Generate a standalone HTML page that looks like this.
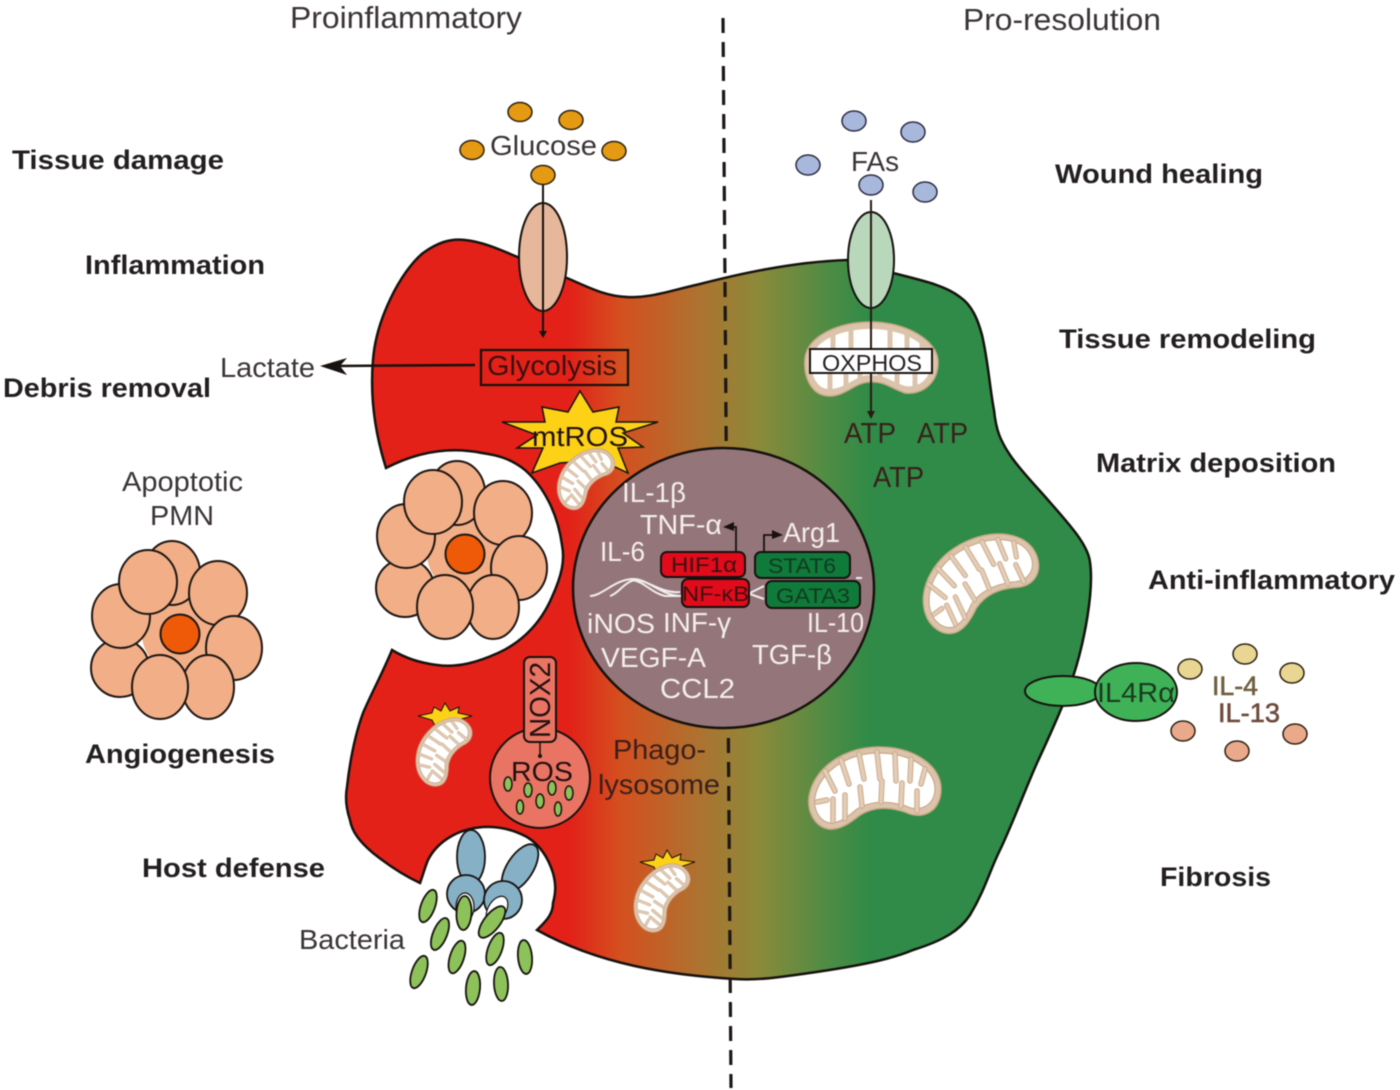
<!DOCTYPE html>
<html><head><meta charset="utf-8"><style>
html,body{margin:0;padding:0;background:#fff}
svg{display:block;filter:blur(.45px)}
text{font-family:"Liberation Sans",sans-serif}
.b{font-weight:bold;font-size:27px;fill:#231f20}
.l{font-size:28px;fill:#3a3436}
.w{font-size:28px;fill:#f4eeee}
.d{font-size:29px;fill:#3a1f1a}
.k{font-size:21px;fill:#3a1010}
</style></head><body>
<svg width="1400" height="1090" viewBox="0 0 1400 1090" xmlns="http://www.w3.org/2000/svg">
<defs>
<linearGradient id="g" gradientUnits="userSpaceOnUse" x1="570" y1="0" x2="870" y2="0">
<stop offset="0" stop-color="#e32119"/><stop offset=".17" stop-color="#d4501f"/><stop offset=".43" stop-color="#ae7230"/><stop offset=".63" stop-color="#8b8a3a"/><stop offset=".87" stop-color="#4c8c45"/><stop offset="1" stop-color="#2f8b47"/>
</linearGradient>
<g id="mito">
<path d="M-66,10 C-62,-18 -32,-40 4,-40 C38,-40 66,-22 66,2 C66,24 48,34 30,25 C15,20 0,19 -15,28 C-25,36 -35,43 -46,42 C-60,40 -68,25 -66,10Z" fill="#dcc4ac" stroke="#c9a887" stroke-width="1.5"/>
<path d="M-60,10 C-56,-14 -29,-34 4,-34 C34,-34 60,-19 60,2 C60,18 45,26 31,19 C14,14 -3,13 -18,22 C-27,30 -35,36 -45,36 C-56,34 -62,22 -60,10Z" fill="#fff" stroke="#c9a887" stroke-width="1.2"/>
<g fill="none" stroke-linecap="round">
<path stroke="#c9a887" stroke-width="5.5" d="M-50,-16 L-40,4M-34,-27 L-26,-3M-16,-33 L-11,-8M2,-35 L5,-8M20,-33 L21,-6M36,-28 L35,-6M50,-18 L46,-3"/>
<path stroke="#c9a887" stroke-width="5.5" d="M-42,34 L-42,12M-30,32 L-30,8M-13,19 L-15,0M6,15 L7,-6M26,19 L27,-4M42,24 L42,4M-58,15 L-48,13"/>
<path stroke="#e3cdb7" stroke-width="3.6" d="M-50,-16 L-40,4M-34,-27 L-26,-3M-16,-33 L-11,-8M2,-35 L5,-8M20,-33 L21,-6M36,-28 L35,-6M50,-18 L46,-3"/>
<path stroke="#e3cdb7" stroke-width="3.6" d="M-42,34 L-42,12M-30,32 L-30,8M-13,19 L-15,0M6,15 L7,-6M26,19 L27,-4M42,24 L42,4M-58,15 L-48,13"/>
</g>
</g>
<g id="pmn" stroke="#1c1714" stroke-width="2" fill="#f2ae86">
<circle cx="180" cy="634" r="38" stroke="none"/>
<ellipse cx="172" cy="573" rx="28" ry="32"/>
<ellipse cx="218" cy="593" rx="29" ry="32"/>
<ellipse cx="234" cy="648" rx="28" ry="32"/>
<ellipse cx="208" cy="687" rx="26" ry="32"/>
<ellipse cx="120" cy="668" rx="29" ry="29"/>
<ellipse cx="160" cy="687" rx="28" ry="32"/>
<ellipse cx="121" cy="616" rx="29" ry="32"/>
<ellipse cx="148" cy="582" rx="29" ry="32"/>
<circle cx="180" cy="634" r="19.5" fill="#ee5a07"/>
</g>
</defs>

<!-- cell -->
<path fill="url(#g)" stroke="#17120f" stroke-width="2.5" stroke-linejoin="miter" d="M386,468 C374,430 370,395 373,360 C376,320 400,272 423,253 C437,243 450,238 465,240 C485,242 505,252 520,258 C535,265 550,272 567,278 C590,288 605,296 627,297 C650,298 665,292 700,284 C735,275 790,262 847,260 C865,262 880,268 893,273 C920,280 945,285 960,297 C972,305 978,320 982,335 C988,360 990,390 994,410 C996,430 1000,440 1010,455 C1020,470 1035,485 1048,500 C1070,525 1088,545 1090,562 C1094,590 1085,640 1073,677 C1068,695 1050,735 1037,763 C1025,790 1012,825 1000,850 C990,870 985,890 970,915 C960,930 945,940 913,950 C890,960 850,968 780,977 C765,979 750,980 735,979 C670,975 600,965 537,930 C545,922 553,915 553,903 C556,892 556,884 553,873 C548,857 540,845 527,837 C512,829 498,826 483,827 C470,828 460,831 450,837 C440,843 433,850 428,860 C425,867 423,875 420,883 C405,876 388,865 373,853 C360,842 352,832 350,820 C346,808 345,798 347,787 C350,760 355,735 363,713 C372,692 383,672 392,650 C405,658 420,663 437,665 C458,668 478,662 498,653 C520,643 540,625 552,597 C562,575 565,560 562,545 C558,515 545,488 525,470 C510,458 496,455 482,453 C448,446 415,453 386,468Z"/>

<!-- dashed line -->
<line x1="723" y1="18" x2="731" y2="1088" stroke="#1c1714" stroke-width="3.2" stroke-dasharray="15 9"/>

<use href="#pmn"/>
<use href="#pmn" transform="translate(285,-80)"/>

<!-- transporters -->
<ellipse cx="543" cy="257" rx="24" ry="54" fill="#e6b79a" stroke="#17120f" stroke-width="2"/>
<line x1="543" y1="185" x2="543" y2="332" stroke="#17120f" stroke-width="2"/>
<path d="M539,331 L547,331 L543,338Z" fill="#17120f"/>

<g stroke="#2a1e10" stroke-width="1.5" fill="#e49a12">
<ellipse cx="520" cy="112" rx="12" ry="9.5"/><ellipse cx="571" cy="120" rx="12" ry="9.5"/><ellipse cx="472" cy="150" rx="12" ry="9.5"/><ellipse cx="614" cy="151" rx="12" ry="9.5"/><ellipse cx="543" cy="175" rx="12" ry="9.5"/>
</g>
<g stroke="#2a2a40" stroke-width="1.5" fill="#a8b8dc">
<ellipse cx="854" cy="121" rx="12" ry="10"/><ellipse cx="913" cy="132" rx="12" ry="10"/><ellipse cx="808" cy="165" rx="12" ry="10"/><ellipse cx="871" cy="185" rx="12" ry="10"/><ellipse cx="925" cy="192" rx="12" ry="10"/>
</g>

<!-- OXPHOS mitochondrion -->
<path d="M805,358 C808,335 840,322 871,322 C905,322 938,340 938,362 C938,385 920,395 905,393 C890,388 885,381 870,382 C855,382 845,397 828,396 C812,395 803,378 805,358Z" fill="#dcc4ac" stroke="#c9a887" stroke-width="1.5"/>
<path d="M812,358 C815,340 842,329 871,329 C902,329 931,344 931,362 C931,380 918,388 905,386 C890,381 885,375 870,375 C855,375 845,390 828,389 C816,388 810,374 812,358Z" fill="#fff"/>
<g stroke="#dcc4ac" stroke-width="5" fill="none">
<path d="M833,332 V350M851,328 V350M890,328 V350M907,332 V350M922,340 V350M830,392 V372M846,390 V372M860,382 V372M880,382 V372M897,388 V372M915,388 V372"/>
</g>
<ellipse cx="871" cy="260" rx="23" ry="48" fill="#b9d8bb" stroke="#17120f" stroke-width="2"/>
<line x1="871" y1="200" x2="871" y2="412" stroke="#2a1a14" stroke-width="2"/>
<path d="M867,411 L875,411 L871,419Z" fill="#2a1a14"/>
<rect x="810" y="349" width="122" height="24" fill="#fff" stroke="#17120f" stroke-width="2"/>
<text x="822" y="371" font-size="23" fill="#231f20" textLength="100" lengthAdjust="spacingAndGlyphs">OXPHOS</text>

<text class="d" x="844" y="443" textLength="52" lengthAdjust="spacingAndGlyphs">ATP</text>
<text class="d" x="917" y="443" textLength="51" lengthAdjust="spacingAndGlyphs">ATP</text>
<text class="d" x="873" y="487" textLength="51" lengthAdjust="spacingAndGlyphs">ATP</text>

<use href="#mito" transform="translate(978,578) rotate(-25) scale(.95)"/>
<use href="#mito" transform="translate(875,787)"/>

<!-- glycolysis -->
<rect x="481" y="350" width="147" height="35" fill="none" stroke="#17120f" stroke-width="2.2"/>
<text x="487" y="375" font-size="28" fill="#3a1010" textLength="130" lengthAdjust="spacingAndGlyphs">Glycolysis</text>
<line x1="475" y1="365" x2="335" y2="366" stroke="#17120f" stroke-width="2.5"/>
<path d="M320,366 L347,358 L340,366 L347,375Z" fill="#17120f"/>
<text class="l" x="220" y="377" textLength="95" lengthAdjust="spacingAndGlyphs">Lactate</text>

<!-- mtROS -->
<polygon points="580,391 593,412 619,407 616,422 658,422 623,433 643,447 618,448 628,473 600,460 560,463 532,473 543,448 517,448 537,435 502,422 545,422 542,407 568,412" fill="#fcd116" stroke="#17120f" stroke-width="1.5"/>
<text x="532" y="446" font-size="28" fill="#231010" textLength="96" lengthAdjust="spacingAndGlyphs">mtROS</text>
<use href="#mito" transform="translate(584,476) rotate(-40) scale(.52)"/>

<!-- nucleus -->
<ellipse cx="723.5" cy="588" rx="150.5" ry="140" fill="#94767a" stroke="#17120f" stroke-width="2.5"/>
<text class="w" x="622" y="502" textLength="64" lengthAdjust="spacingAndGlyphs">IL-1β</text>
<text class="w" x="640" y="534" textLength="82" lengthAdjust="spacingAndGlyphs">TNF-α</text>
<text class="w" x="600" y="561" textLength="45" lengthAdjust="spacingAndGlyphs">IL-6</text>
<text class="w" x="783" y="542" textLength="57" lengthAdjust="spacingAndGlyphs">Arg1</text>
<text class="w" x="587" y="633" textLength="68" lengthAdjust="spacingAndGlyphs">iNOS</text>
<text class="w" x="663" y="632" textLength="68" lengthAdjust="spacingAndGlyphs">INF-γ</text>
<text class="w" x="601" y="667" textLength="105" lengthAdjust="spacingAndGlyphs">VEGF-A</text>
<text class="w" x="660" y="698" textLength="75" lengthAdjust="spacingAndGlyphs">CCL2</text>
<text class="w" x="752" y="664" textLength="80" lengthAdjust="spacingAndGlyphs">TGF-β</text>
<text class="w" x="807" y="632" textLength="57" lengthAdjust="spacingAndGlyphs">IL-10</text>

<g fill="none" stroke="#f2ecec" stroke-width="2">
<path d="M590,596 C602,596 614,580 632,579 C648,578 660,596 682,596"/>
<path d="M610,596 C618,594 624,582 635,580 C648,580 662,594 680,592"/>
<path d="M632,580 C645,582 650,592 665,596 L680,596"/>
<path d="M750,593 L764,586M750,594 L764,599"/>
<path d="M856,578 L862,578"/>
</g>
<path d="M736,552 V527 H726M764,552 V535 H776" fill="none" stroke="#17120f" stroke-width="1.8"/>
<path d="M723,527 L734,522 L734,531Z M783,535 L772,530 L772,539Z" fill="#17120f"/>
<rect x="661" y="552" width="84" height="25" rx="6" fill="#e20b1c" stroke="#17120f" stroke-width="2"/>
<rect x="682" y="579" width="67" height="28" rx="6" fill="#e20b1c" stroke="#17120f" stroke-width="2"/>
<rect x="755" y="552" width="95" height="26" rx="6" fill="#0f7a3a" stroke="#17120f" stroke-width="2"/>
<rect x="766" y="581" width="94" height="27" rx="6" fill="#0f7a3a" stroke="#17120f" stroke-width="2"/>
<text class="k" x="671" y="572" textLength="66" lengthAdjust="spacingAndGlyphs">HIF1α</text>
<text class="k" x="682" y="601" textLength="67" lengthAdjust="spacingAndGlyphs">NF-κB</text>
<text class="k" x="768" y="573" textLength="68" lengthAdjust="spacingAndGlyphs" style="fill:#123a20">STAT6</text>
<text class="k" x="776" y="603" textLength="74" lengthAdjust="spacingAndGlyphs" style="fill:#123a20">GATA3</text>

<!-- phagolysosome -->
<circle cx="540" cy="778" r="50" fill="#e97464" stroke="#17120f" stroke-width="2"/>
<line x1="540" y1="742" x2="540" y2="756" stroke="#17120f" stroke-width="1.5"/>
<circle cx="540" cy="756" r="2" fill="#17120f"/>
<rect x="524" y="657" width="32" height="85" rx="6" fill="#e97464" stroke="#17120f" stroke-width="2"/>
<text x="550" y="738" font-size="29" fill="#231010" transform="rotate(-90 550 738)" textLength="76" lengthAdjust="spacingAndGlyphs">NOX2</text>
<text x="511" y="781" font-size="28" fill="#231010" textLength="62" lengthAdjust="spacingAndGlyphs">ROS</text>
<g fill="#8dc15a" stroke="#17120f" stroke-width="1.5">
<ellipse cx="508" cy="784" rx="4" ry="7"/><ellipse cx="528" cy="790" rx="4" ry="7"/><ellipse cx="552" cy="788" rx="4" ry="7"/><ellipse cx="569" cy="793" rx="4" ry="7"/><ellipse cx="540" cy="801" rx="4" ry="7"/><ellipse cx="520" cy="807" rx="3.5" ry="7"/><ellipse cx="558" cy="809" rx="3.5" ry="7"/>
</g>
<text class="d" style="font-size:28px" x="613" y="759" textLength="93" lengthAdjust="spacingAndGlyphs">Phago-</text>
<text class="d" style="font-size:28px" x="598" y="794" textLength="122" lengthAdjust="spacingAndGlyphs">lysosome</text>

<!-- small stars + mitochondria -->
<polygon points="445,703 450,711 459,707 458,713 472,716 458,720 440,735 432,720 418,716 432,713 434,707 441,711" fill="#fcd116" stroke="#17120f" stroke-width="1"/>
<polygon points="667,850 672,858 681,854 680,860 695,862 680,867 662,885 654,867 640,862 654,860 656,854 663,858" fill="#fcd116" stroke="#17120f" stroke-width="1"/>
<use href="#mito" transform="translate(442,749) rotate(-50) scale(.55)"/>
<use href="#mito" transform="translate(660,895) rotate(-50) scale(.55)"/>

<!-- receptors and bacteria -->
<g fill="#85b0c6" stroke="#17120f" stroke-width="1.8">
<ellipse cx="471" cy="857" rx="14" ry="27"/>
<ellipse cx="520" cy="868" rx="13" ry="27" transform="rotate(33 520 868)"/>
<circle cx="466" cy="894" r="19"/>
<circle cx="503" cy="900" r="19"/>
</g>
<ellipse cx="465" cy="907" rx="9" ry="14" fill="#fff" stroke="#17120f" stroke-width="1.2"/>
<ellipse cx="497" cy="910" rx="9" ry="15" fill="#fff" stroke="#17120f" stroke-width="1.2" transform="rotate(30 497 910)"/>
<g fill="#8dc15a" stroke="#17120f" stroke-width="1.8">
<ellipse cx="428" cy="906" rx="7" ry="17" transform="rotate(20 428 906)"/>
<ellipse cx="440" cy="934" rx="7" ry="17" transform="rotate(22 440 934)"/>
<ellipse cx="457" cy="957" rx="7" ry="17" transform="rotate(18 457 957)"/>
<ellipse cx="419" cy="972" rx="7" ry="17" transform="rotate(20 419 972)"/>
<ellipse cx="473" cy="988" rx="7" ry="17" transform="rotate(5 473 988)"/>
<ellipse cx="501" cy="984" rx="7" ry="17" transform="rotate(-3 501 984)"/>
<ellipse cx="525" cy="957" rx="7" ry="17" transform="rotate(-5 525 957)"/>
<ellipse cx="495" cy="949" rx="7" ry="17" transform="rotate(20 495 949)"/>
<ellipse cx="464" cy="913" rx="7.5" ry="17" transform="rotate(3 464 913)"/>
<ellipse cx="492" cy="922" rx="8" ry="19" transform="rotate(38 492 922)"/>
</g>

<!-- IL4R -->
<ellipse cx="1063" cy="691" rx="38" ry="15" fill="#3fb257" stroke="#17120f" stroke-width="2"/>
<ellipse cx="1136" cy="692" rx="41" ry="29" fill="#3fb257" stroke="#17120f" stroke-width="2"/>
<text x="1097" y="702" font-size="28" fill="#1a3a20" textLength="78" lengthAdjust="spacingAndGlyphs">IL4Rα</text>
<g fill="#e9d692" stroke="#2a2010" stroke-width="1.5">
<ellipse cx="1190" cy="669" rx="12" ry="10"/><ellipse cx="1245" cy="654" rx="12" ry="10"/><ellipse cx="1292" cy="673" rx="12" ry="10"/>
</g>
<g fill="#e9a98a" stroke="#2a2010" stroke-width="1.5">
<ellipse cx="1183" cy="731" rx="12" ry="10"/><ellipse cx="1237" cy="751" rx="12" ry="10"/><ellipse cx="1295" cy="734" rx="12" ry="10"/>
</g>
<text x="1212" y="695" font-size="27" fill="#6f5f3f" stroke="#6f5f3f" stroke-width=".6" textLength="46" lengthAdjust="spacingAndGlyphs">IL-4</text>
<text x="1218" y="722" font-size="27" fill="#6e4b3c" stroke="#6e4b3c" stroke-width=".6" textLength="62" lengthAdjust="spacingAndGlyphs">IL-13</text>

<!-- labels -->
<text class="l" style="font-size:31px" x="290" y="28" textLength="232" lengthAdjust="spacingAndGlyphs">Proinflammatory</text>
<text class="l" style="font-size:31px" x="963" y="30" textLength="198" lengthAdjust="spacingAndGlyphs">Pro-resolution</text>
<text class="l" x="490" y="155" textLength="107" lengthAdjust="spacingAndGlyphs">Glucose</text>
<text class="l" x="851" y="171" textLength="48" lengthAdjust="spacingAndGlyphs">FAs</text>
<text class="l" x="122" y="491" textLength="121" lengthAdjust="spacingAndGlyphs">Apoptotic</text>
<text class="l" x="150" y="525" textLength="64" lengthAdjust="spacingAndGlyphs">PMN</text>
<text class="l" x="299" y="949" textLength="106" lengthAdjust="spacingAndGlyphs">Bacteria</text>

<text class="b" x="12" y="169" textLength="212" lengthAdjust="spacingAndGlyphs">Tissue damage</text>
<text class="b" x="85" y="274" textLength="180" lengthAdjust="spacingAndGlyphs">Inflammation</text>
<text class="b" x="3" y="397" textLength="208" lengthAdjust="spacingAndGlyphs">Debris removal</text>
<text class="b" x="85" y="763" textLength="190" lengthAdjust="spacingAndGlyphs">Angiogenesis</text>
<text class="b" x="142" y="877" textLength="183" lengthAdjust="spacingAndGlyphs">Host defense</text>
<text class="b" x="1055" y="183" textLength="208" lengthAdjust="spacingAndGlyphs">Wound healing</text>
<text class="b" x="1059" y="348" textLength="257" lengthAdjust="spacingAndGlyphs">Tissue remodeling</text>
<text class="b" x="1096" y="472" textLength="240" lengthAdjust="spacingAndGlyphs">Matrix deposition</text>
<text class="b" x="1148" y="589" textLength="247" lengthAdjust="spacingAndGlyphs">Anti-inflammatory</text>
<text class="b" x="1160" y="886" textLength="111" lengthAdjust="spacingAndGlyphs">Fibrosis</text>
</svg>
</body></html>
